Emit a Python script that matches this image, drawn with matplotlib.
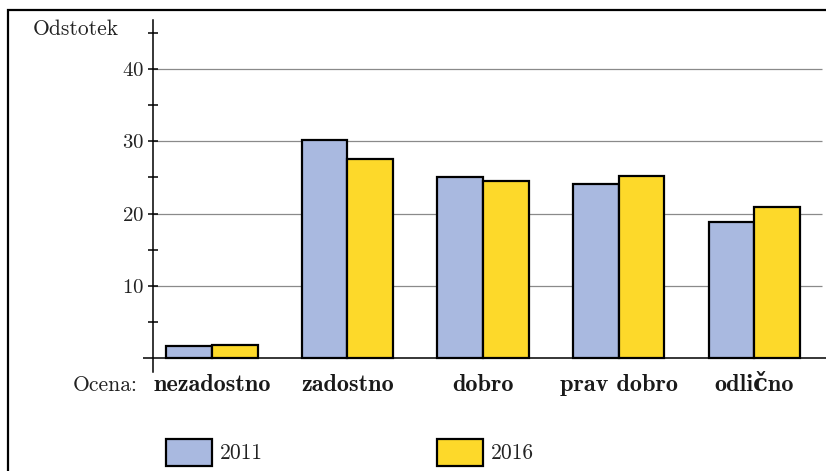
import matplotlib.pyplot as plt
from matplotlib.patches import Rectangle
import numpy as np

plt.rcParams['axes.formatter.use_mathtext'] = True

categories = ["nezadostno", "zadostno", "dobro", "prav dobro", "odlično"]
years = ["2011", "2016"]
vals_2011 = [1.7, 30.2, 25.1, 24.1, 18.8]
vals_2016 = [1.8, 27.6, 24.5, 25.2, 20.9]
colors = ["#a9b9e0", "#fdd92a"]
yticks_major = [10, 20, 30, 40]
yticks_minor = [5, 15, 25, 35, 45]

REG = ['cmr10', 'DejaVu Serif']
BOLD = ['cmb10', 'DejaVu Serif']

W, H = 826, 471
fig = plt.figure(figsize=(W / 100, H / 100), dpi=100)

# axes span pixel x 143..826, y 20..372
ax = fig.add_axes([143 / W, (H - 372) / H, (W - 143) / W, 352 / H])
x = np.arange(len(categories))
bw = 0.336
x_axis = -0.435
ax.set_xlim(-0.509, 4.531)
ax.set_ylim(-1.94, 46.8)

# gridlines
ax.hlines(yticks_major, x_axis, 4.502, color="#8a8a8a", lw=0.9, zorder=1)
ax.axhline(0, color="black", lw=1.1, zorder=3)

ax.bar(x - bw / 2, vals_2011, bw, color=colors[0], edgecolor="black", lw=1.6, zorder=2)
ax.bar(x + bw / 2, vals_2016, bw, color=colors[1], edgecolor="black", lw=1.6, zorder=2)

for s in ["top", "right", "bottom"]:
    ax.spines[s].set_visible(False)
ax.spines["left"].set_position(("data", x_axis))
ax.spines["left"].set_linewidth(1.1)
ax.set_yticks(yticks_major)
ax.set_yticks(yticks_minor, minor=True)
ax.tick_params(axis="y", which="both", direction="inout", length=7, width=1.1, pad=3)
for lbl in ax.get_yticklabels():
    lbl.set_family(REG)
    lbl.set_fontsize(15)
    lbl.set_color("#222222")
ax.set_xticks([])

# category labels
for xi, c in zip(x, categories):
    ax.text(xi, -3.8, c, ha="center", va="center", fontsize=17.5,
            family=BOLD, fontweight="bold", color="#1a1a1a")
fig.text(105 / W, 1 - 385 / H, "Ocena:", ha="center", va="center",
         fontsize=15.5, family=REG, color="#222222")
fig.text(76 / W, 1 - 29 / H, "Odstotek", ha="center", va="center",
         fontsize=15.5, family=REG, color="#222222")

# legend
for px, col, yr in [(166, colors[0], years[0]), (437, colors[1], years[1])]:
    fig.add_artist(Rectangle((px / W, 1 - 466 / H), 46 / W, 27 / H,
                             transform=fig.transFigure, facecolor=col,
                             edgecolor="black", lw=1.6))
    fig.text((px + 54) / W, 1 - 453 / H, yr, ha="left", va="center",
             fontsize=15.5, family=REG, color="#222222")

# outer frame
fig.add_artist(Rectangle((8 / W, -0.1), 1.2, 1 - 10 / H + 0.1,
                         transform=fig.transFigure, fill=False,
                         edgecolor="black", lw=1.6))

fig.savefig("out.png", dpi=100)
